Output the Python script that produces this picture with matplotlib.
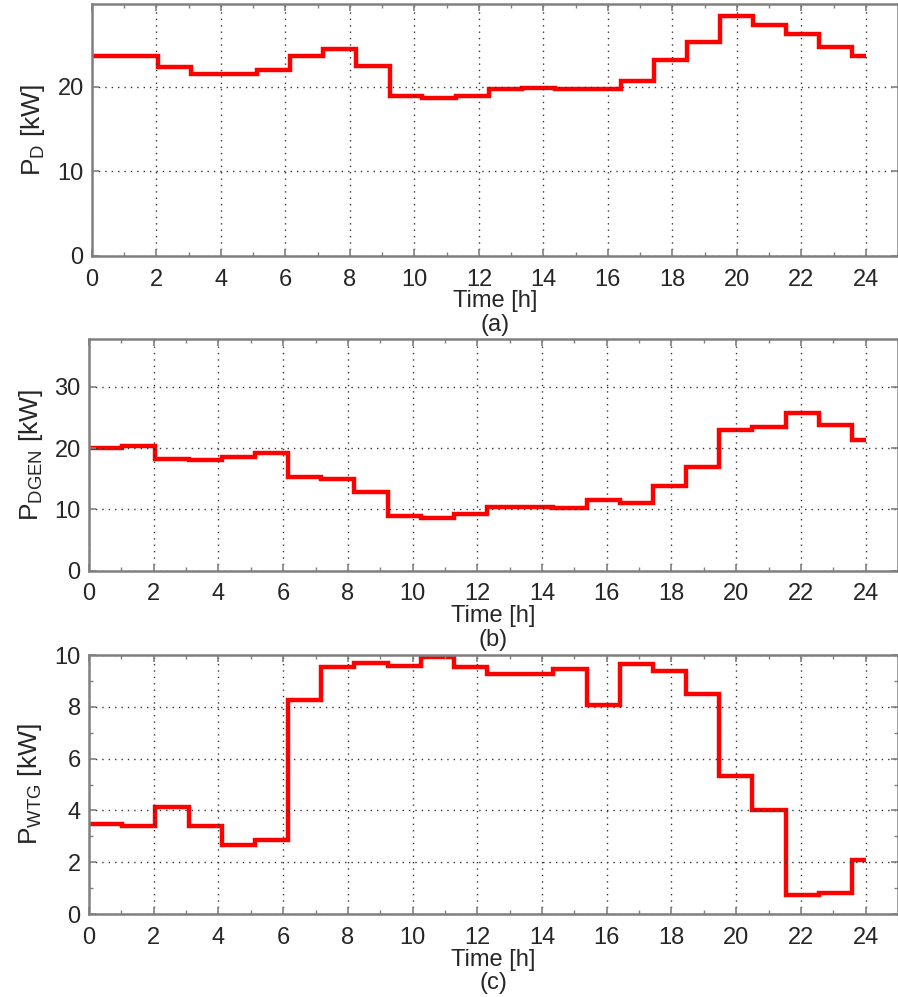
import numpy as np
import matplotlib
matplotlib.use("Agg")
import matplotlib.pyplot as plt
from matplotlib.ticker import MultipleLocator

plt.rcParams['font.family'] = ['Liberation Sans', 'DejaVu Sans']

# hour boundaries of the 24 steps (spacing is a bit over 1 h)
edges = [0, 1.02, 2.05, 3.08, 4.1, 5.13, 6.15, 7.18, 8.2, 9.23, 10.25, 11.28,
         12.3, 13.33, 14.35, 15.38, 16.4, 17.43, 18.45, 19.48, 20.5, 21.53,
         22.55, 23.58, 24.0]

# (a) demand
p_d = [23.7, 23.7, 22.4, 21.5, 21.5, 22.0, 23.7, 24.5, 22.5, 18.9, 18.7, 18.9,
       19.7, 19.9, 19.7, 19.7, 20.7, 23.2, 25.3, 28.4, 27.3, 26.3, 24.7, 23.7]
# (b) diesel generator
p_dgen = [20.0, 20.4, 18.25, 18.0, 18.5, 19.2, 15.25, 14.9, 12.8, 8.9, 8.6, 9.3,
          10.4, 10.4, 10.2, 11.5, 11.1, 13.85, 16.9, 23.0, 23.45, 25.65, 23.7, 21.35]
# (c) wind turbine
p_wtg = [3.47, 3.41, 4.13, 3.41, 2.67, 2.86, 8.28, 9.55, 9.69, 9.57, 9.92, 9.54,
         9.28, 9.28, 9.45, 8.06, 9.66, 9.4, 8.48, 5.32, 4.0, 0.74, 0.8, 2.09]

panels = [
    (p_d, r'$\mathregular{P_{D}}$ [kW]', (0, 29.8), [0, 10, 20], None, '(a)',
     [92/898, 1-256/997, 806/898, 252/997], -0.056),
    (p_dgen, r'$\mathregular{P_{DGEN}}$ [kW]', (0, 37.8), [0, 10, 20, 30], None, '(b)',
     [89/898, 1-570.5/997, 809/898, 231.5/997], -0.054),
    (p_wtg, r'$\mathregular{P_{WTG}}$ [kW]', (0, 10), [0, 2, 4, 6, 8, 10], 1, '(c)',
     [89/898, 1-914/997, 809/898, 259/997], -0.056),
]

fig = plt.figure(figsize=(8.98, 9.97), dpi=100)
spine_c = '#808080'
text_c = '#262626'

for vals, ylab, ylim, yticks, yminor, tag, pos, ylab_x in panels:
    ax = fig.add_axes(pos)
    ax.stairs(vals, edges, baseline=None, color='#ff0000', linewidth=3.2,
              joinstyle='miter')
    ax.set_xlim(0, 25)
    ax.set_ylim(*ylim)
    ax.set_xticks(np.arange(0, 25, 2))
    ax.xaxis.set_minor_locator(MultipleLocator(1))
    ax.set_yticks(yticks)
    if yminor:
        ax.yaxis.set_minor_locator(MultipleLocator(yminor))
    ax.grid(True, which='major', color='#333333', linestyle=(0, (1, 3.6)),
            linewidth=1.0)
    for s in ax.spines.values():
        s.set_color(spine_c)
        s.set_linewidth(1.8)
    ax.tick_params(which='both', direction='in', top=True, right=True,
                   color=spine_c, labelcolor=text_c, labelsize=17)
    ax.tick_params(which='major', length=5, width=1.2)
    ax.tick_params(which='minor', length=3, width=1.0)
    ax.tick_params(axis='x', pad=9)
    ax.tick_params(axis='y', pad=6)
    ax.set_xlabel('Time [h]', fontsize=17, color=text_c, labelpad=0)
    ax.set_ylabel(ylab, fontsize=19, color=text_c)
    ax.yaxis.set_label_coords(ylab_x, 0.5)
    ax.annotate(tag, xy=(0.5, 0), xycoords='axes fraction', xytext=(0, -50),
                textcoords='offset points', ha='center', va='center',
                fontsize=17, color=text_c)

fig.savefig('out.png', dpi=100)
